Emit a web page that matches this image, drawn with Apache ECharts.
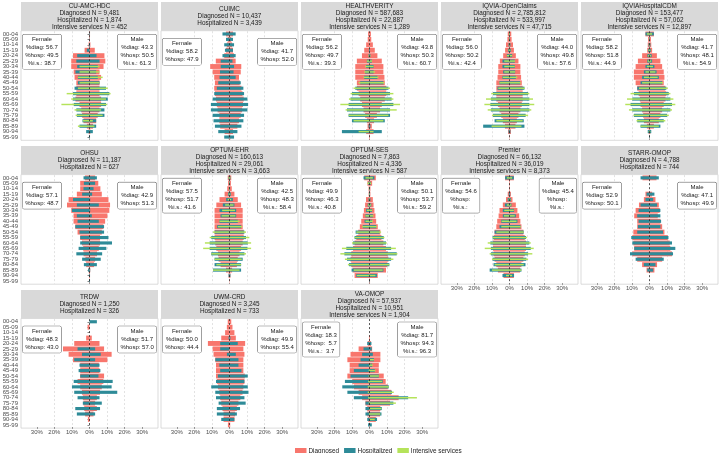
<!DOCTYPE html>
<html><head><meta charset="utf-8">
<script src="https://cdn.jsdelivr.net/npm/echarts@6/dist/echarts.min.js"></script>
<style>html,body{margin:0;padding:0;background:#fff}#c{width:720px;height:453px}</style>
</head><body><div id="c"></div>
<script>
const ages = ['00-04','05-09','10-14','15-19','20-24','25-29','30-34','35-39','40-44','45-49','50-54','55-59','60-64','65-69','70-74','75-79','80-84','85-89','90-94','95-99'];
const panels = ['CU-AMC-HDC','CUIMC','HEALTHVERITY','IQVIA-OpenClaims','IQVIAHospitalCDM','OHSU','OPTUM-EHR','OPTUM-SES','Premier','STARR-OMOP','TRDW','UWM-CRD','VA-OMOP'];
const diagnosedN = [9481,10437,587683,2785812,153477,11187,160613,7863,66132,4788,1250,3245,57937];
const hospitalizedN = [1874,3439,22887,533997,57062,627,29061,4336,36019,744,326,733,10951];
const intensiveN = [452,null,1289,47715,12897,null,3663,587,8373,null,null,null,1904];
const femaleDiagShare = [56.7,58.2,56.2,56.0,58.2,57.1,57.5,49.9,54.6,52.9,48.3,50.0,18.3];
const maleDiagShare = [43.3,41.7,43.8,44.0,41.7,42.9,42.5,50.1,45.4,47.1,51.7,49.9,81.7];
const femaleHospShare = [49.5,47.9,49.7,50.2,51.8,48.7,51.7,46.3,null,50.1,43.0,44.4,5.7];
const maleHospShare = [50.5,52.0,50.3,49.8,48.1,51.3,48.3,53.7,null,49.9,57.0,55.4,94.3];
const femaleISShare = [38.7,null,39.3,42.4,44.9,null,41.6,40.8,null,null,null,null,3.7];
const maleISShare = [61.3,null,60.7,57.6,54.9,null,58.4,59.2,null,null,null,null,96.3];
const xTicks = [-30,-20,-10,0,10,20,30];

// percent of each age group (female values shown to the left)
const femaleDiagnosed = [
 [0.3,0.2,0.5,2.8,9.4,10.4,10.4,9,8.5,7.5,7.5,7.5,8,5.7,4.7,4.2,3.4,1.5,0.5,0.1],
 [2,1,1.5,2,3,7.8,11,9.6,8.7,8.3,8.7,8.3,7.7,7.2,6.8,5.8,5.8,5.3,2.8,0.5],
 [0.8,1,1.9,3,4.3,7.2,8.1,8.1,8.1,7.2,7.2,6.2,5.3,4.3,3.4,2.5,1.5,1.1,1.9,0.2],
 [1,1.2,2,2.5,3.6,5.5,6.4,6.4,6.8,7.5,7.5,7.5,7.5,6.6,5.7,4.7,3.8,2.6,0.8,0.1],
 [2.3,0.8,1,1.3,4.2,6.6,7.9,8.9,8.9,7.9,7,6.2,5.5,5.1,4.2,3.6,3.2,1.5,0.5,0.1],
 [2.6,5.3,5.3,7.2,11.9,12.8,10.4,9.1,9.1,8.1,6.8,5.3,4.3,3.6,3.4,2.3,1.9,0.5,0.3,0.2],
 [1,0.8,1.3,2.8,5.7,7.5,8.5,8.5,8.5,8.5,8.5,8.5,8.1,7.5,6.6,6.2,5.1,2,0.5,0.1],
 [3,1.2,0.5,0.5,2,2.5,3.2,3.8,4.7,5.5,6.4,7.5,8.5,9.4,10.4,10.8,10.4,9.4,8.5,0.3],
 [2.5,0.2,0.2,1,2,3.8,5.7,6.2,7,7.5,8.5,9,9.4,9.4,9.1,8.5,7.5,6.6,3.4,0],
 [4,0,0,2.3,3.2,6,7.9,8.7,7,7,9.2,9.8,9.2,8.7,9.8,7,4.2,1.7,0,0],
 [0,1.1,0,1.9,8.7,15.1,11.9,9.4,5.3,5.3,5.3,6.8,5.3,4.3,3.8,3.4,3,2.5,0.9,0],
 [1,1.5,2.5,4.7,12.3,9.6,9.1,8.1,7.7,7.7,7.7,7.2,6.6,5.8,5.3,4.7,4,3.4,3.4,0.9],
 [0,0,0,0.3,1,6.2,10.8,12.6,11.3,11.3,12.6,9.8,8.9,6.2,4.2,2.3,1.3,1.3,0.8,0.1]
];
const maleDiagnosed = [
 [0.3,0.2,0.5,3,8.5,9,8,5.7,6.6,5.7,5.7,5.7,6.6,6.6,5.7,4.7,3.8,2,0.5,0.1],
 [2,1,1.5,2,2.5,3.5,6.7,6.4,5.4,5.8,6.8,7.4,8.1,7.7,7.2,6.4,5.4,4.5,2,0.5],
 [0.8,1,1.9,3,4.5,7,7.9,7.9,8.5,8.7,9.6,9.6,8.7,7,6,4.2,2.6,1.3,2.3,0.2],
 [1,1.2,2,2.5,3.6,5.1,6.2,6.2,6.6,7,7.5,7.5,7.5,7,6.2,5.1,4.2,3.4,0.8,0.1],
 [2.5,0.8,1,1.5,4.2,6.2,7.2,8.1,8.5,8.1,9,9.6,9.1,8.1,7.2,6.2,5.3,2.5,0.5,0.1],
 [3.2,5,6.2,7,10.8,11.7,11.3,10.2,8.9,7.9,7,6,6,5.3,4.3,3.2,2.6,0.4,0.3,0.2],
 [1,0.8,1.3,2.8,4.7,6.6,7.5,7.5,7.5,7.5,8.1,8.1,7.5,6.6,5.7,4.7,4.2,1.5,0.5,0.1],
 [3.6,1.5,0.5,0.5,1.9,2.3,2.8,3.4,3.8,4.7,6.2,6.8,7.9,9.4,10.4,10.8,10.2,9.4,4.7,0.3],
 [2.5,0.2,0.2,0.8,1.7,3.6,4.5,5.5,6.2,6.8,7.9,8.7,9.4,9.4,8.7,7.9,6.8,6,2.5,0],
 [4,0,0,1.5,3.4,5.3,5.8,4.7,6.2,7.2,8.5,10.4,11.5,11.9,12.8,7.2,4.3,2.8,0,0],
 [0,0,0,1.3,5.7,8.3,12.6,10.2,5.3,5.7,8.3,7.9,7,6,4.2,3.2,4.2,2.3,0,0],
 [1,1.7,2.8,3.6,8.9,7.9,8.5,7.9,7.9,7.9,8.7,8.5,7.9,7.4,6.2,5.1,4.2,3.2,2.8,0.4],
 [0,0,0,0.2,0.8,1.5,6.2,6.2,5.3,5.3,8.1,9.2,10.4,12.4,16.6,11.7,6.2,6,3.6,0.3]
];
const femaleHospitalized = [
 [0.2,0.1,0.3,1.5,7,7.5,7,8,6.6,6.6,8.5,9.4,9.4,9,7.5,7.2,4,5.7,1.9,0.3],
 [4,2,3,2.6,4,5,5,5.4,5.7,6.4,7.2,8.7,9.6,10.6,10.6,9.6,9.1,8.3,6.4,3],
 [0,0,0,0.3,0.5,1.5,1.9,2.5,3,5.3,8.1,10,10.8,11.9,12.8,11.9,10,0.5,15.7,0],
 [0.3,0.3,0.5,0.8,1.5,4,4,3.6,4,5.7,6.8,9.4,10.6,10.9,10.6,9.4,8.5,15,0.5,0],
 [2.3,0.3,0.5,0.8,1.2,1.3,2.3,3.2,4.2,5.1,7,8.9,9.8,10.8,9.8,8.9,7,5.1,1,0.2],
 [3.4,3.2,3.4,4.2,9.4,7.2,10,7.2,6.8,8.1,5.7,5.3,5.3,6.2,7.5,4.2,3.2,0.8,0.3,0.3],
 [0.5,0.3,0.3,0.8,1.9,3.8,5.7,5.1,5.7,7,8.5,10.4,11.3,11.3,10.4,8.5,8.5,9.4,0.5,0],
 [3.4,0.8,0.3,0.3,0.5,1,1.9,2.3,2.8,3.8,7.9,8.5,9.4,13.2,14.3,12.8,11.7,10.2,7.5,0.2],
 [2.5,0,0,0.4,1,2.6,3.8,3.8,4.7,5.7,8.5,9.6,10.9,10.6,10.6,9.6,9.1,11.3,4,0],
 [5.1,0,0,1.7,2.3,5.1,6.2,7,6.2,6.6,7,10.4,9.8,8.7,11.1,7.9,3.2,1.3,0,0],
 [0,0,0,0,0,6.8,4.3,8.7,5.7,6.2,5.3,9,10,8.7,6.8,3.8,8.1,7.2,0,0],
 [0,0,0,0.5,5.3,5.3,1.5,8.1,5.8,5.3,6.6,7.7,10.4,8.1,7.7,6.2,7.2,7.2,4.7,0],
 [0,0,0,0,1.3,3.4,4.2,5.1,6.2,8.9,10.8,14,15.5,12.6,8.9,2.3,2.3,2.3,1.3,0.8]
];
const maleHospitalized = [
 [0.2,0.1,0.3,0,4,5.7,4.7,3.8,4.7,5.7,9.4,11.3,10.4,9.4,8.5,8.5,3.8,3.8,1.9,0.3],
 [3.5,2,2.6,2,3.5,1.7,2.6,2.3,3.5,6.4,7.9,8.3,10.2,10.6,10.2,8.3,7.9,6.8,4.5,2.6],
 [0,0,0,0.3,0.5,1.3,2.3,2.3,4.5,7.9,10.8,11.7,12.6,13.6,11.7,11.7,8.7,0.5,7,0],
 [0.3,0.3,0.5,0.8,1.5,3,3,3.2,3.6,6,8.5,10.6,11.3,11.3,11.3,9.2,8.1,8.5,0.5,0],
 [2.5,0.3,0.5,0.8,1.2,1.5,2.8,4,5.3,7.2,9.6,11,11.9,12.8,11.9,10,8.1,6.2,1,0.2],
 [4.2,3.2,2.3,1.5,0.4,5.3,0.4,1.3,5.3,8.3,8.3,10.8,12.8,9.6,7.2,6.4,4.2,0.4,0.3,0.3],
 [0.5,0.3,0.3,0.8,1.9,2.8,3.8,3.8,4.7,6.6,8.5,9.4,10.4,10.2,8.5,7.5,6.6,6.6,0.5,0],
 [2.8,0.8,0.3,0.3,0.5,1,1.5,1.9,1.5,3.8,5.7,8.1,9.4,12.3,15.5,12.3,11.3,7.9,4.2,0.2],
 [2.5,0,0,0.4,0.8,1.1,2.6,3.6,4.5,6.2,8.1,9.4,11.3,12.1,10.6,9.6,9.1,6.8,2.6,0],
 [5.3,0,0,2.8,2.1,4.3,6.2,6.2,6.6,6.2,7.7,10.8,12.8,14.7,13.4,8.1,3.4,2.1,0,0],
 [4.2,0,0,0,0,3.2,6.4,3.2,5.7,6.2,5.1,13.2,12.6,15.8,5.7,7,6,3.2,0,0],
 [0,0,0,0.5,4.7,0,3.6,5.1,5.1,6.8,10.4,8.5,10.4,10.8,8.5,9.2,6,4.2,2.8,0],
 [0,0,0,0,1.1,1.3,1.9,2.5,1.5,3,5.3,7.5,11,12.8,22,13.6,7,6.8,4.3,1.3]
];
const femaleIntensive = [
 [0,0,0,0,0,0,5.7,5.7,6.6,5.7,6.6,13,10.4,16,8.5,7.9,3.8,6.6,0,0],
 null,
 [0,0,0,0,0.5,1.5,2.5,3,3.4,6.2,9.1,10.8,11.7,16.6,13.6,11.9,9.1,0,6.2,0],
 [0.3,0.2,0.3,0.5,1.5,3,3,3,3.8,5.7,6.4,10.4,13.4,14.3,12.4,10,7.5,10.2,0,0],
 [1.5,0.2,0.3,0.5,0.8,1,1.5,2.3,3.2,4.2,6,10.8,12.8,13.8,11.7,9.1,7.4,5.1,0.5,0],
 null,
 [0.5,0.2,0.2,0.5,1,2.5,4.2,4.5,5.7,6.6,9.4,11.3,14,15,10.4,8.5,7.5,9.4,0,0],
 [2.3,1.2,0.2,0.2,0.3,0.8,1.5,2.3,2.3,4.2,7.5,8.5,10,15.7,16.6,14,12.3,9,7.2,0],
 [1.5,0,0,0,0.5,1.5,3,3.2,4.5,4.7,7.5,9.6,12.4,14.1,11.3,10,8.5,10,2,0],
 null, null, null,
 [0,0,0,0,0,0,0,0.3,0.3,0.5,0.5,0.8,1,1,0.8,0.5,0.3,0.3,0,0]
];
const maleIntensive = [
 [0,0,0,0,0,0,5.7,5.7,7.5,5.7,10.4,12,9.4,10,6.6,7.5,1.9,2.8,0,0],
 null,
 [0,0,0,0,0.5,1.5,2.3,3.2,5.1,8.5,11.7,13.6,13.6,17.4,15.5,10.8,7.9,0,2.3,0],
 [0.3,0.2,0.3,0.5,1.5,3.2,3,3.2,4.5,6.4,8.7,11.3,13.4,14.1,12.4,10.6,7.5,6.8,0,0],
 [1.5,0.2,0.3,0.5,0.8,1,2,3.4,4.7,7.7,10.4,11.9,13.6,14.7,12.8,11,9,5.3,0.5,0],
 null,
 [0.5,0.2,0.2,0.5,1,2.3,3.2,3.4,5.7,7.2,9.4,11.3,12.3,12.3,9.4,7,6.6,5.7,0,0],
 [1.9,1,0.2,0.2,0.3,0.8,1.5,2.3,2,4.2,6.6,8.5,9.8,15,15.9,13.6,11.3,7.5,3.4,0],
 [1.5,0,0,0,0.5,1,2.5,3,4,6.4,8.1,10,12.1,13.8,13,10.6,8.1,6.8,1.5,0],
 null, null, null,
 [0,0,0,0,0,0,0,2.5,1.9,3.4,5.3,7.2,11,13.8,27,15,6.8,6.2,3,0]
];

// ---------- layout & style ----------
const FONT = '"Liberation Sans", Arial, Helvetica, sans-serif';
const C_DIAG = '#F8766D', C_HOSP = '#2E8B98', C_IS = '#B5E35A';
const TXT = '#1A1A1A', AXT = '#4D4D4D';
const PL0 = 21, COLSTEP = 140, PW = 137;
const ROWTOP = [30.7, 174.6, 318.5], PH = 109.6, STRIP_H = 28.6;
const XLIM = 39, XAX = 40;
const pxu = PW / (2 * XLIM);
const band = PH / 20.2;

const ctx = document.createElement('canvas').getContext('2d');
function tw(s, size) { ctx.font = size + 'px ' + FONT; return ctx.measureText(s).width; }
function fmt(v) { if (v == null) return ''; const s = v.toFixed(1); return v < 10 ? ' ' + s : s; }
function fmtN(n) { return n.toLocaleString('en-US'); }

const grids = [], xAxes = [], yAxes = [], series = [], graphics = [];
const bottomPanels = [8, 9, 10, 11, 12];

panels.forEach((name, p) => {
  const row = Math.floor(p / 5), col = p % 5;
  const pl = PL0 + col * COLSTEP, rt = ROWTOP[row];
  grids.push({ left: pl - (XAX - XLIM) * pxu, top: rt + 0.1 * band, width: 2 * XAX * pxu, height: 20 * band, outerBoundsMode: 'none', containLabel: false });
  const showX = bottomPanels.includes(p);
  xAxes.push({
    type: 'value', gridIndex: p, min: -XAX, max: XAX, interval: 10,
    offset: -(PH - 0.1 * band - 20 * band),
    axisLine: { show: false },
    axisTick: { show: showX, length: 2, lineStyle: { color: '#333', width: 0.6 }, customValues: xTicks },
    axisLabel: { show: showX, fontSize: 6, color: AXT, fontFamily: FONT, margin: 2.5, customValues: xTicks,
      formatter: v => Math.abs(v) === XAX ? '' : Math.abs(v) + '%' },
    splitLine: { show: true, showMinLine: false, showMaxLine: false, lineStyle: { color: '#CFCFCF', type: [2, 2], width: 0.6 } }
  });
  for (let t = 0; t < 3; t++) {
    const showY = t === 0 && col === 0;
    yAxes.push({
      type: 'category', gridIndex: p, data: ages, inverse: true, show: t === 0,
      offset: -(XAX - XLIM) * pxu,
      axisLine: { show: false },
      axisTick: { show: showY, alignWithLabel: true, length: 2, lineStyle: { color: '#333', width: 0.6 } },
      axisLabel: { show: showY, fontSize: 6, color: AXT, fontFamily: FONT, margin: 3, interval: 0 },
      splitLine: { show: false }
    });
  }
  const types = [
    { name: 'Diagnosed', f: femaleDiagnosed[p], m: maleDiagnosed[p], color: C_DIAG, w: '90%' },
    { name: 'Hospitalized', f: femaleHospitalized[p], m: maleHospitalized[p], color: C_HOSP, w: '58%' },
    { name: 'Intensive services', f: femaleIntensive[p], m: maleIntensive[p], color: C_IS, w: '27%' }
  ];
  types.forEach((ty, t) => {
    if (!ty.f) return;
    [ty.f.map(v => -v), ty.m].forEach(d => {
      series.push({ type: 'bar', name: ty.name, xAxisIndex: p, yAxisIndex: 3 * p + t, data: d,
        barWidth: ty.w, barGap: '-100%', itemStyle: { color: ty.color }, z: 2 + t, animation: false, silent: true });
    });
  });
  series.push({ type: 'line', name: 'zero', xAxisIndex: p, yAxisIndex: 3 * p, data: [], z: 8, silent: true,
    markLine: { silent: true, symbol: ['none', 'none'], label: { show: false }, animation: false,
      lineStyle: { color: '#000', type: [2, 2], width: 0.6 }, data: [{ xAxis: 0 }] } });

  graphics.push({ type: 'rect', z: 50, silent: true, shape: { x: pl, y: rt, width: PW, height: PH },
    style: { fill: 'none', stroke: '#C4C4C4', lineWidth: 0.6 } });
  const lines = [name, 'Diagnosed N = ' + fmtN(diagnosedN[p]), 'Hospitalized N = ' + fmtN(hospitalizedN[p])];
  if (intensiveN[p] != null) lines.push('Intensive services N = ' + fmtN(intensiveN[p]));
  graphics.push({ type: 'rect', z: 50, silent: true, shape: { x: pl, y: rt - STRIP_H, width: PW, height: STRIP_H },
    style: { fill: '#D9D9D9' } });
  graphics.push({ type: 'text', z: 51, silent: true, x: pl + PW / 2, y: rt - STRIP_H / 2 + 0.3,
    style: { text: lines.join('\n'), fill: TXT, fontSize: 6.4, fontFamily: FONT, lineHeight: 7, align: 'center', verticalAlign: 'middle' } });
  const hasIS = intensiveN[p] != null;
  const fl = ['Female', '%diag: ' + fmt(femaleDiagShare[p]), '%hosp: ' + fmt(femaleHospShare[p])];
  const ml = ['Male', '%diag: ' + fmt(maleDiagShare[p]), '%hosp: ' + fmt(maleHospShare[p])];
  if (hasIS) { fl.push('%i.s.: ' + fmt(femaleISShare[p])); ml.push('%i.s.: ' + fmt(maleISShare[p])); }
  const FS = 6, PADX = 2.7;
  [[fl, 'L'], [ml, 'R']].forEach(([ls, side]) => {
    const w = Math.max(...ls.map(s => tw(s, FS))) + 2 * PADX;
    const cx = side === 'L' ? pl + 1.5 + w / 2 : pl + PW - 1.5 - w / 2;
    graphics.push({ type: 'text', z: 60, silent: true, x: cx, y: rt + 21,
      style: { text: ls.join('\n'), fill: TXT, fontSize: FS, fontFamily: FONT, lineHeight: 8, align: 'center', verticalAlign: 'middle',
        backgroundColor: '#fff', borderColor: '#555', borderWidth: 0.5, borderRadius: 1.5, padding: [1.2, PADX, 1.2, PADX] } });
  });
});

const chart = echarts.init(document.getElementById('c'), null, { renderer: 'canvas' });
chart.setOption({
  animation: false,
  backgroundColor: '#fff',
  textStyle: { fontFamily: FONT },
  grid: grids, xAxis: xAxes, yAxis: yAxes, series: series,
  legend: { data: ['Diagnosed', 'Hospitalized', 'Intensive services'], left: 290, top: 443, itemWidth: 11.5, itemHeight: 7, itemGap: 5,
    icon: 'rect', textStyle: { fontSize: 6.4, color: TXT, fontFamily: FONT, padding: [0, 0, 0, -3] }, selectedMode: false },
  graphic: graphics
});
</script></body></html>
